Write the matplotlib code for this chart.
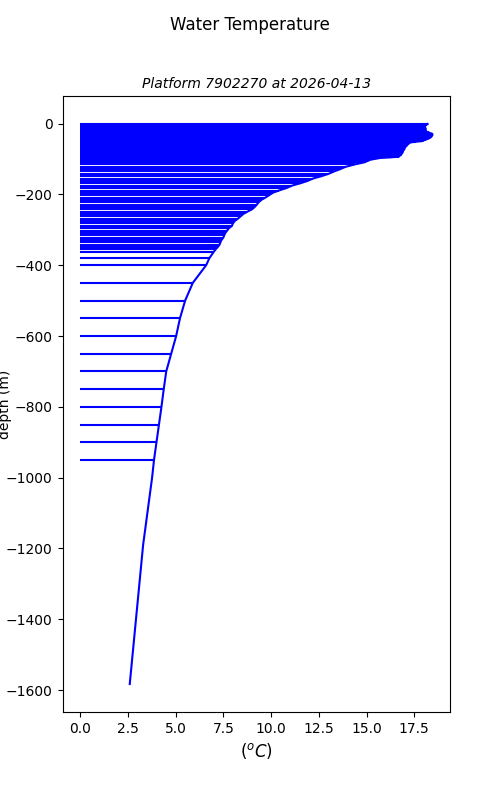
import matplotlib
matplotlib.use('Agg')
import matplotlib.pyplot as plt
import numpy as np

# Profile metadata
platform = '7902270'
date = '2026-04-13'

# Sampled levels with a bar from 0 to the temperature (m, degC)
depth = [-1, -3, -5, -7, -9, -11, -13, -15, -17, -19, -21, -23, -25, -27,
         -29, -31, -33, -35, -37, -39, -41, -43, -45, -47, -49, -51, -53,
         -55, -57, -59, -61, -63, -65, -67, -69, -71, -73, -75, -77, -79,
         -81, -83, -85, -87, -89, -91, -93, -95, -97,
         -102, -109, -115, -122, -129, -135, -142, -149, -155, -162, -169,
         -175, -182, -189, -195, -202, -209, -215, -222, -229, -235, -242,
         -249, -255, -262, -269, -275, -282, -289, -295, -302, -309, -315,
         -322, -329, -335, -342, -349, -355, -362,
         -380, -400, -450, -500, -550, -600, -650, -700, -750, -800, -850,
         -900, -950]
temp = [18.2, 18.15, 18.1, 18.05, 18.05, 18.05, 18.1, 18.1, 18.1, 18.1,
        18.1, 18.15, 18.25, 18.35, 18.45, 18.45, 18.45, 18.4, 18.4, 18.35,
        18.3, 18.2, 18.1, 18.0, 17.95, 17.6, 17.3, 17.25, 17.2, 17.15,
        17.1, 17.1, 17.05, 17.0, 17.0, 17.0, 16.95, 16.95, 16.9, 16.9,
        16.9, 16.85, 16.85, 16.8, 16.8, 16.7, 16.7, 16.3, 15.7,
        15.2, 14.9, 14.4, 13.9, 13.6, 13.3, 13.0, 12.6, 12.2, 11.9, 11.5,
        11.1, 10.8, 10.4, 10.1, 9.9, 9.7, 9.5, 9.35, 9.25, 9.15, 9.0,
        8.75, 8.55, 8.4, 8.25, 8.1, 8.0, 7.95, 7.8, 7.7, 7.6, 7.55,
        7.5, 7.4, 7.35, 7.3, 7.2, 7.1, 7.0,
        6.77, 6.6, 5.9, 5.5, 5.23, 5.03, 4.77, 4.51, 4.38, 4.26, 4.13,
        4.0, 3.87]

# Deeper levels, line only
depth_deep = [-1000, -1190, -1583]
temp_deep = [3.77, 3.3, 2.6]

fig, ax = plt.subplots(figsize=(5, 8), dpi=100)
fig.suptitle('Water Temperature')
ax.set_title('Platform %s at %s' % (platform, date),
             fontsize=10, style='italic')

# Bars from zero to each measured temperature
ax.hlines(depth, 0, temp, colors='b')
# Full profile line
ax.plot(temp + temp_deep, depth + depth_deep, 'b')

ax.set_xlabel('$(^oC)$', fontsize=12)
ax.set_ylabel('depth (m)')
ax.yaxis.set_label_coords(-0.13, 0.5)

fig.savefig('out.png')
